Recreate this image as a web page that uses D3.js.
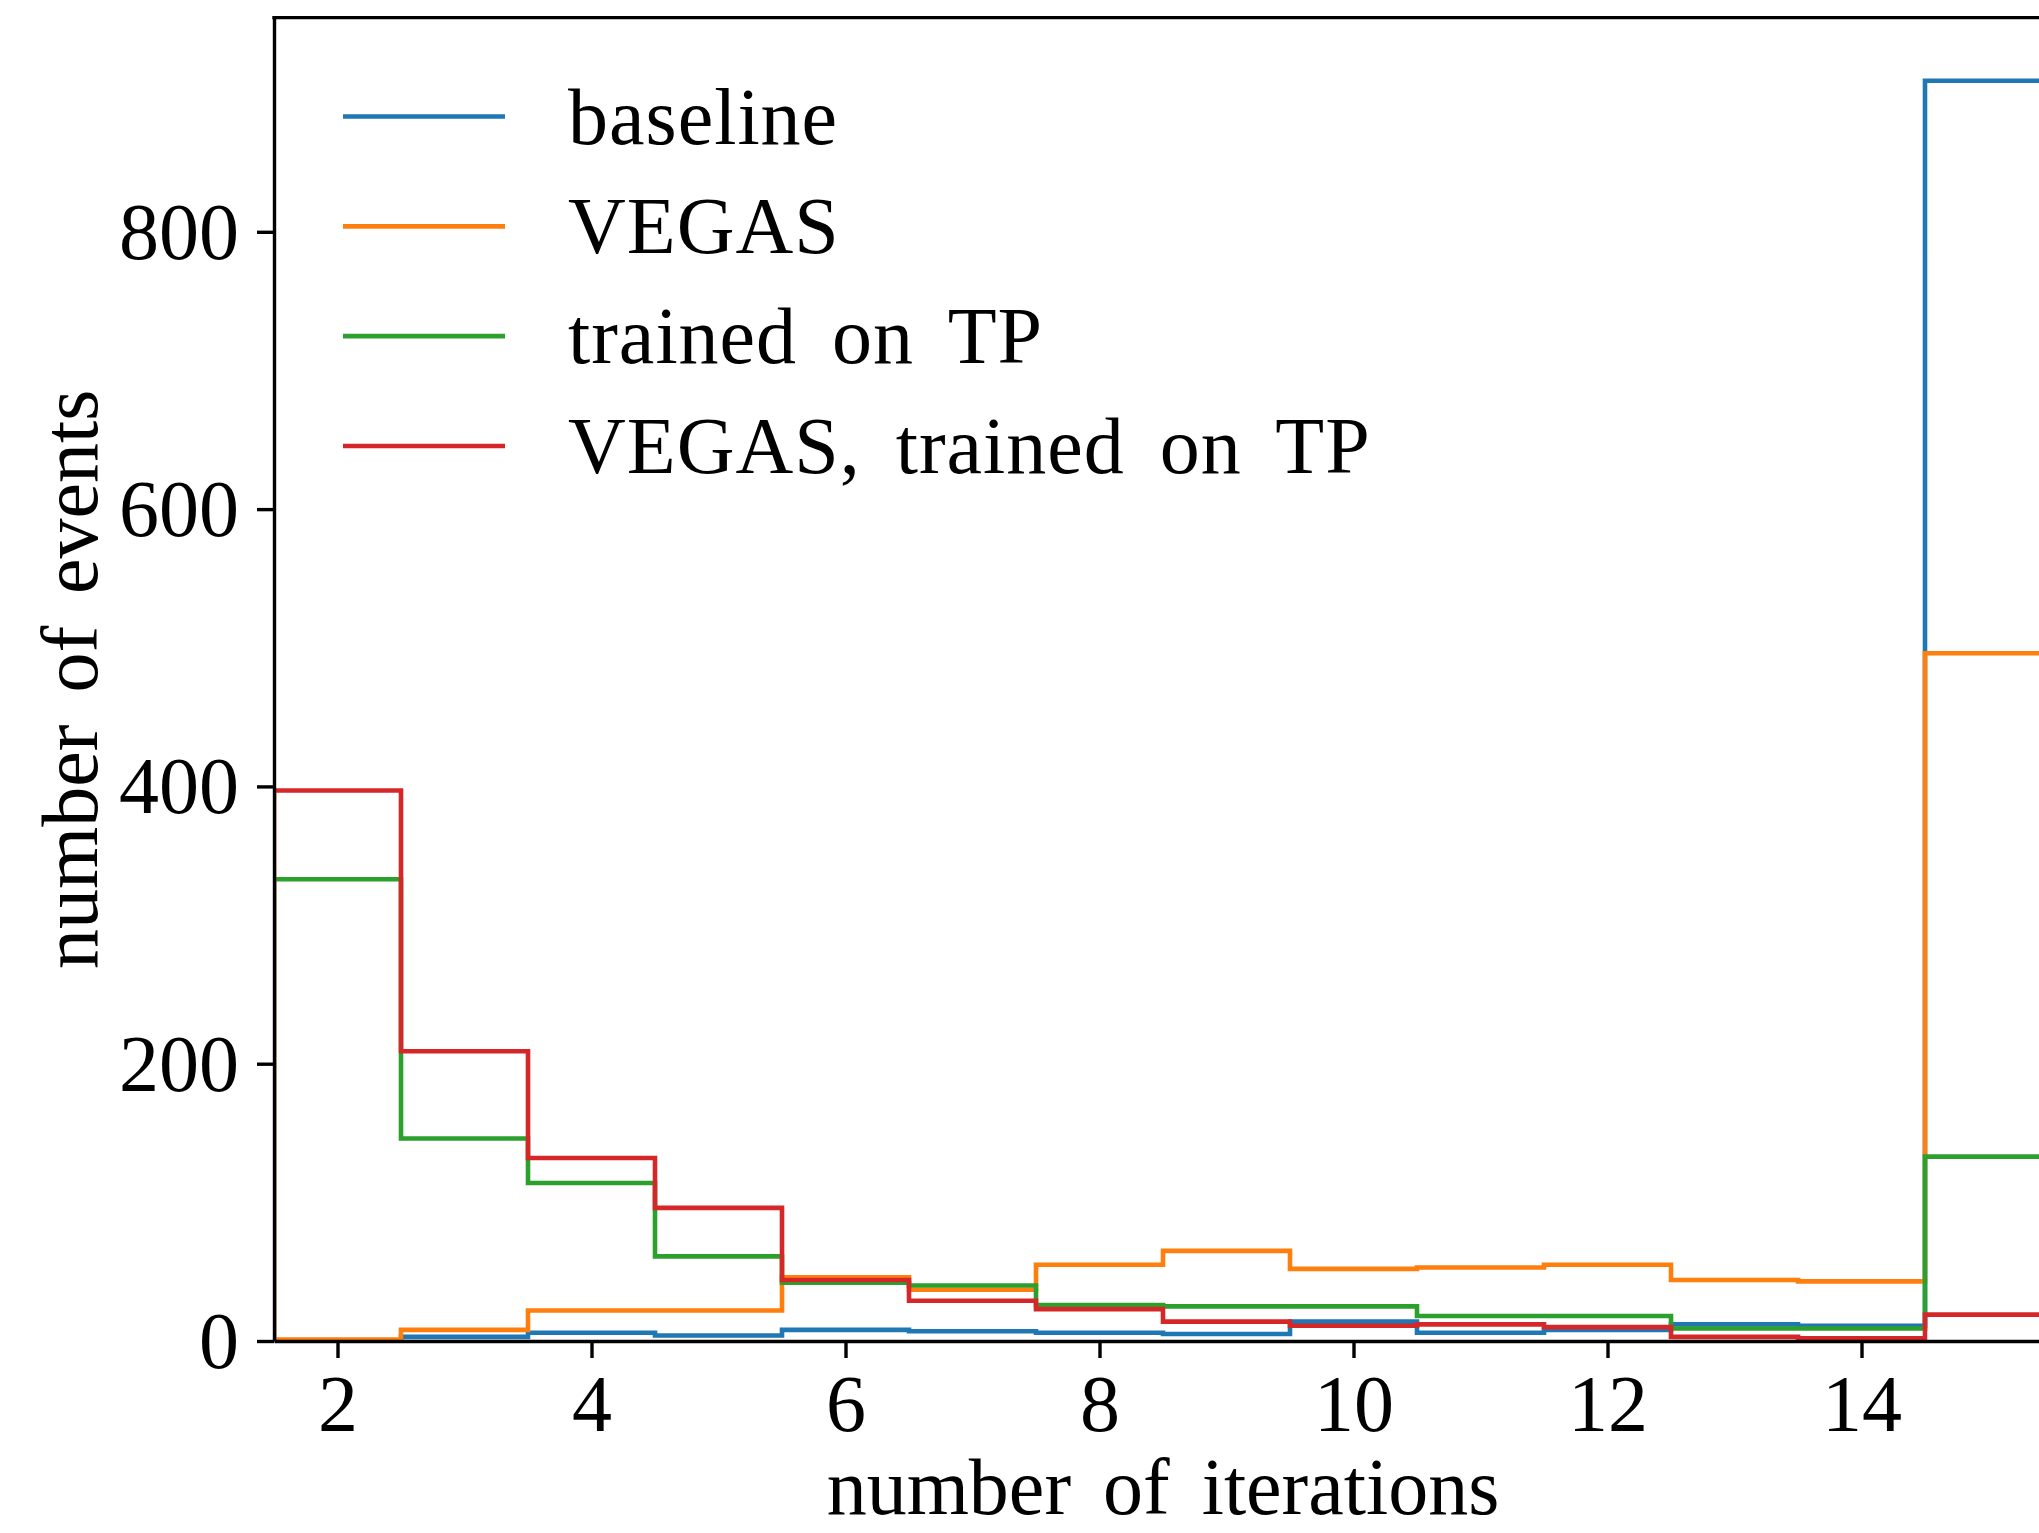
<!DOCTYPE html>
<html>
<head>
<meta charset="utf-8">
<script src="https://cdn.jsdelivr.net/npm/d3@7"></script>
<style>
  html, body { margin: 0; padding: 0; background: #fff; }
  svg { display: block; }
  text { font-family: "Liberation Serif", "DejaVu Serif", serif; fill: #000; }
</style>
</head>
<body>
<svg id="chart" width="2039" height="1533"></svg>
<script>
// ---- data ----
const iterations = [2, 3, 4, 5, 6, 7, 8, 9, 10, 11, 12, 13, 14, 15];
const baseline   = [0, 3, 6, 4, 8, 7, 6, 5, 14, 6, 8, 12, 11, 909];
const vegas      = [1, 8, 22, 22, 46, 37, 55, 65, 52, 53, 55, 44, 43, 496];
const trainedTP  = [333, 146, 114, 61, 42, 40, 26, 25, 25, 18, 18, 9, 9, 133];
const vegasTP    = [397, 209, 132, 96, 44, 29, 23, 14, 11, 12, 10, 3, 2, 19];
const seriesNames  = ["baseline", "VEGAS", "trained on TP", "VEGAS, trained on TP"];
const seriesColors = ["#1f77b4", "#ff7f0e", "#2ca02c", "#d62728"];
const xTicks = [2, 4, 6, 8, 10, 12, 14];
const yTicks = [0, 200, 400, 600, 800];
const xLabel = "number of iterations";
const yLabel = "number of events";

(function () {
// ---- layout ----
const svg = d3.select("#chart");
const mLeft = 274, mTop = 17.6, mBottom = 1341, mRight = 2052;
const fontSize = 80;

const x = d3.scaleLinear().domain([1.5, 15.5]).range([mLeft, mRight]);
const y = d3.scaleLinear().domain([0, 954.5]).range([mBottom, mTop]);

svg.append("defs").append("clipPath").attr("id", "plotclip")
  .append("rect").attr("x", mLeft).attr("y", mTop)
  .attr("width", mRight - mLeft).attr("height", mBottom - mTop);

// ---- histograms (step) ----
const allSeries = [baseline, vegas, trainedTP, vegasTP];
const line = d3.line().x(d => x(d[0])).y(d => y(d[1]));
const plot = svg.append("g").attr("clip-path", "url(#plotclip)");
allSeries.forEach((vals, k) => {
  const pts = [[iterations[0] - 0.5, 0]];
  iterations.forEach((it, i) => {
    pts.push([it - 0.5, vals[i]]);
    pts.push([it + 0.5, vals[i]]);
  });
  pts.push([iterations[iterations.length - 1] + 0.5, 0]);
  plot.append("path")
    .attr("d", line(pts))
    .attr("fill", "none")
    .attr("stroke", seriesColors[k])
    .attr("stroke-width", 4.6)
    .attr("stroke-linejoin", "miter");
});

// ---- axes ----
const xAxis = d3.axisBottom(x).tickValues(xTicks).tickFormat(d3.format("d"))
  .tickSize(17).tickSizeOuter(0).tickPadding(16);
const yAxis = d3.axisLeft(y).tickValues(yTicks).tickFormat(d3.format("d"))
  .tickSize(17).tickSizeOuter(0).tickPadding(18);

const gx = svg.append("g").attr("transform", `translate(0,${mBottom})`).call(xAxis);
const gy = svg.append("g").attr("transform", `translate(${mLeft},0)`).call(yAxis);
[gx, gy].forEach(g => {
  g.selectAll(".domain").attr("stroke", "#000").attr("stroke-width", 3.4);
  g.selectAll(".tick line").attr("stroke", "#000").attr("stroke-width", 3.4);
  g.selectAll(".tick text").attr("font-size", fontSize)
    .attr("font-family", "Liberation Serif, DejaVu Serif, serif").attr("fill", "#000");
});
gy.selectAll(".tick text").attr("dy", "0.33em");

// top spine
svg.append("line")
  .attr("x1", mLeft - 1.7).attr("x2", mRight)
  .attr("y1", mTop).attr("y2", mTop)
  .attr("stroke", "#000").attr("stroke-width", 3.4);
// right spine
svg.append("line")
  .attr("x1", mRight).attr("x2", mRight)
  .attr("y1", mTop).attr("y2", mBottom)
  .attr("stroke", "#000").attr("stroke-width", 3.4);

// ---- axis labels ----
svg.append("text")
  .attr("x", (mLeft + mRight) / 2).attr("y", 1514)
  .attr("text-anchor", "middle").attr("font-size", fontSize)
  .attr("word-spacing", 12)
  .text(xLabel);
svg.append("text")
  .attr("transform", `translate(97,${(mTop + mBottom) / 2}) rotate(-90)`)
  .attr("text-anchor", "middle").attr("font-size", fontSize)
  .attr("word-spacing", 12)
  .text(yLabel);

// ---- legend ----
const legendY = d3.scalePoint().domain(seriesNames).range([116.5, 446]);
const lg = svg.append("g");
seriesNames.forEach((name, k) => {
  const ly = legendY(name);
  lg.append("line")
    .attr("x1", 343).attr("x2", 505)
    .attr("y1", ly).attr("y2", ly)
    .attr("stroke", seriesColors[k]).attr("stroke-width", 4.6);
  lg.append("text")
    .attr("x", 568).attr("y", ly + 27)
    .attr("font-size", fontSize)
    .attr("word-spacing", 14)
    .attr("letter-spacing", 1)
    .text(name);
});
})();
</script>
</body>
</html>
